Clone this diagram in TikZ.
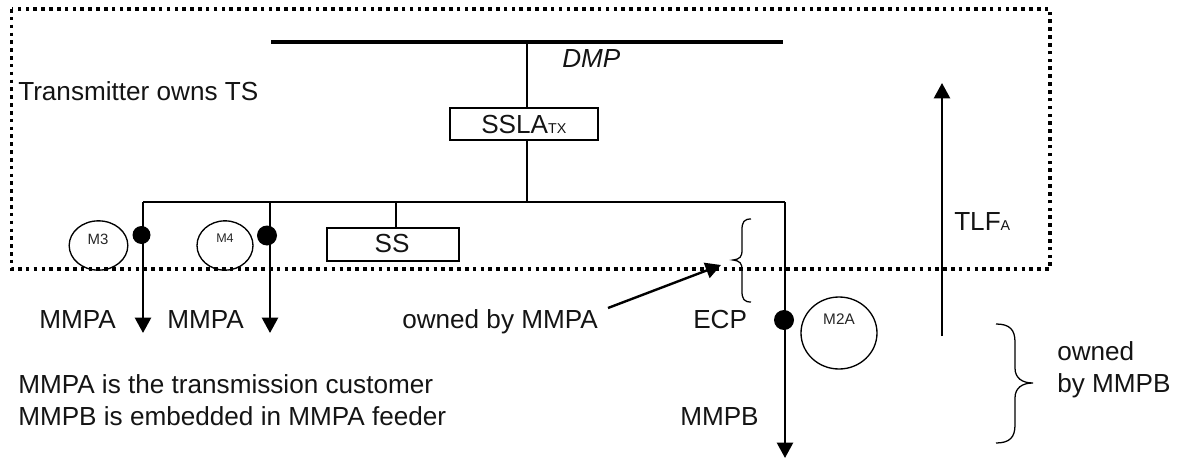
\documentclass[tikz,border=0pt]{standalone}
\usepackage{fontspec}
\setmainfont{Liberation Sans}
\usetikzlibrary{arrows.meta,shapes.geometric}
\newcommand{\bigf}{\fontsize{19.6}{23}\selectfont}
\newcommand{\subf}{\fontsize{10.7}{13}\selectfont}
\tikzset{
  lbl/.style={inner sep=0pt,anchor=base west,font=\bigf,text=black!92},
  mlbl/.style={inner sep=0pt,anchor=base,font=\fontsize{11.2}{13}\selectfont,text=black!85},
  boxn/.style={draw,line width=1.3pt,inner sep=0pt,anchor=north west},
  meter/.style={draw,line width=1pt,ellipse,inner sep=0pt},
  wire/.style={line width=1.4pt},
  head/.style={-{Triangle[length=11.5pt,width=12pt]}},
  feed/.style={line width=1.8pt,head},
  dotn/.style={circle,fill=black,inner sep=0pt},
  brc/.style={line width=0.95pt},
}
\begin{document}
\begin{tikzpicture}[x=0.75pt,y=-0.75pt]
\useasboundingbox (0,0) rectangle (1183,460);
% dotted boundary
\draw[line width=2.7pt,dash pattern=on 2.7pt off 3.18pt] (11.5,9) rectangle (1050,269);
% bus
\coordinate (busL) at (271,42); \coordinate (busR) at (783,42); \coordinate (busM) at (527,42);
\draw[line width=3pt] (busL) -- (busR);
\node[boxn,minimum width=111pt,minimum height=24pt] (ssla) at (449,107) {};
\node[lbl] (sslat) at (481,133) {SSLA{\subf TX}};
\node[boxn,minimum width=99pt,minimum height=25pt] (ss) at (326,227) {};
\node[lbl,anchor=base] (sst) at (392,252) {SS};
\coordinate (n1) at (143,202); \coordinate (n2) at (270,202); \coordinate (n3) at (396,202);
\coordinate (n4) at (527,202); \coordinate (n5) at (785,202);
\coordinate (e1) at (143,333); \coordinate (e2) at (270,333); \coordinate (e3) at (785,458);
\draw[wire] (busM) -- (ssla.north -| busM);
\draw[wire] (ssla.south -| n4) -- (n4);
\draw[wire] (n1) -- (n5);
\draw[wire] (n3) -- (ss.north -| n3);
\draw[feed] (n1) -- (e1);
\draw[feed] (n2) -- (e2);
\draw[feed] (n5) -- (e3);
% CT dots
\node[dotn,minimum size=13.5pt] (d1) at (141.5,235) {};
\node[dotn,minimum size=15pt] (d2) at (267,235.5) {};
\node[dotn,minimum size=15pt] (d3) at (784,320) {};
% meters
\node[meter,minimum width=44pt,minimum height=37pt] (m3) at (98.5,245.5) {};
\node[mlbl] (m3t) at (98,244) {M3};
\node[meter,minimum width=42pt,minimum height=37pt] (m4) at (225,245.5) {};
\node[mlbl,font=\fontsize{9.4}{11}\selectfont] (m4t) at (225,242) {M4};
\node[meter,minimum width=57pt,minimum height=54pt] (m2) at (839,333) {};
\node[mlbl,font=\fontsize{11.5}{13}\selectfont] (m2t) at (839,324) {M2A};
% TLF
\coordinate (t0) at (942,336); \coordinate (t1) at (942,83);
\draw[feed] (t0) -- (t1);
% owned by arrow
\coordinate (o0) at (608,308); \coordinate (o1) at (721,265);
\draw[feed] (o0) -- (o1);
% braces
\draw[brc] (751,219) .. controls (744,219) and (742,222) .. (742,230) -- (742,250) .. controls (742,257) and (740,259) .. (733,260) .. controls (740,261) and (742,263) .. (742,270) -- (742,291) .. controls (742,299) and (744,302) .. (751,302);
\draw[brc] (996,324) .. controls (1010,324) and (1015,330) .. (1015,342) -- (1015,368) .. controls (1015,378) and (1022,383) .. (1033,383) .. controls (1022,383) and (1015,388) .. (1015,398) -- (1015,425) .. controls (1015,437) and (1010,443) .. (996,443);
% texts
\node[lbl,font=\bigf\itshape] (dmp) at (562,68) {DMP};
\node[lbl] (tx) at (18,100.5) {Transmitter owns TS};
\node[lbl] (a1) at (39,328) {MMPA};
\node[lbl] (a2) at (167,328) {MMPA};
\node[lbl] (ow) at (402,328) {owned by MMPA};
\node[lbl] (ecp) at (693,328) {ECP};
\node[lbl] (tlf) at (954,230) {TLF{\subf A}};
\node[lbl] (c1) at (18,393) {MMPA is the transmission customer};
\node[lbl] (c2) at (18,425) {MMPB is embedded in MMPA feeder};
\node[lbl] (b) at (680,425) {MMPB};
\node[lbl] (o1t) at (1057,360) {owned};
\node[lbl] (o2t) at (1057,392) {by MMPB};
\end{tikzpicture}
\end{document}
